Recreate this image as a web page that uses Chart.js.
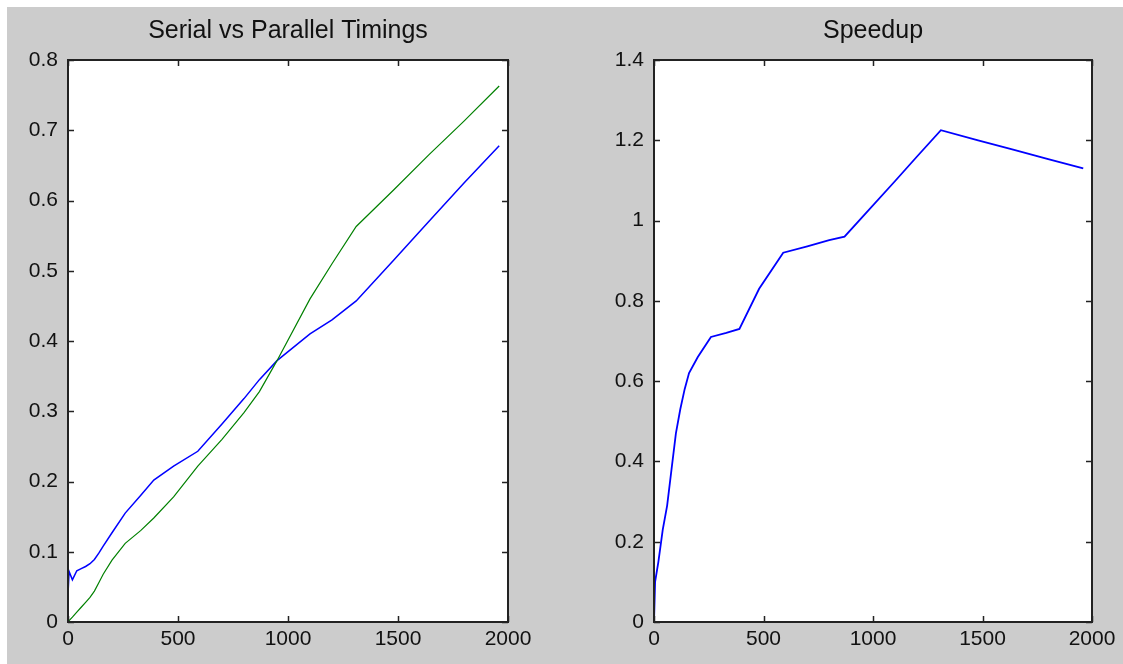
<!DOCTYPE html>
<html>
<head>
<meta charset="utf-8">
<script src="https://cdn.jsdelivr.net/npm/chart.js@4"></script>
<style>
  html, body { margin: 0; padding: 0; background: #ffffff; }
  body { width: 1123px; height: 664px; position: relative; overflow: hidden; }
  .panel { position: absolute; left: 7px; top: 7px; right: 0; bottom: 0; background: #cccccc; }
  .box { position: absolute; top: 0; height: 664px; }
</style>
</head>
<body>
<div class="panel"></div>
<div class="box" style="left:0; width:560px;"><canvas id="timingChart"></canvas></div>
<div class="box" style="left:560px; width:563px;"><canvas id="speedupChart"></canvas></div>
<script>
// data
const sizes = [0, 5, 20, 40, 60, 80, 100, 120, 140, 160, 200, 260, 330, 390, 480, 590, 700, 800, 870, 950, 1100, 1200, 1310, 1480, 1640, 1800, 1960];
const parallelTimes = [0.040, 0.072, 0.060, 0.073, 0.076, 0.079, 0.083, 0.089, 0.098, 0.108, 0.127, 0.155, 0.180, 0.202, 0.222, 0.243, 0.282, 0.318, 0.345, 0.372, 0.410, 0.430, 0.457, 0.515, 0.570, 0.625, 0.678];
const serialTimes = [0.000, 0.002, 0.007, 0.014, 0.021, 0.028, 0.035, 0.044, 0.056, 0.068, 0.088, 0.112, 0.130, 0.148, 0.178, 0.222, 0.260, 0.298, 0.328, 0.372, 0.460, 0.510, 0.563, 0.615, 0.665, 0.713, 0.763];
const speedup = [0.00, 0.10, 0.15, 0.23, 0.29, 0.38, 0.47, 0.53, 0.58, 0.62, 0.66, 0.71, 0.72, 0.73, 0.83, 0.92, 0.936, 0.951, 0.96, 1.008, 1.098, 1.159, 1.225, 1.20, 1.177, 1.153, 1.13];
const xTicks = [0, 500, 1000, 1500, 2000];

const FONT = 'Liberation Sans, Arial, sans-serif';
const INK = '#111111';

function toPoints(xs, ys) {
    return xs.map((x, i) => ({ x: x, y: ys[i] }));
}

// white plot area, black box and inward ticks like MATLAB
const matlabAxes = {
    id: 'matlabAxes',
    beforeDraw(chart) {
        const a = chart.chartArea;
        const ctx = chart.ctx;
        ctx.save();
        ctx.fillStyle = '#ffffff';
        ctx.fillRect(a.left, a.top, a.right - a.left, a.bottom - a.top);
        ctx.restore();
    },
    afterDraw(chart) {
        const a = chart.chartArea;
        const ctx = chart.ctx;
        const len = 6;
        ctx.save();
        ctx.strokeStyle = '#222222';
        ctx.lineWidth = 2;
        ctx.strokeRect(a.left, a.top, a.right - a.left, a.bottom - a.top);
        ctx.lineWidth = 1.5;
        ctx.beginPath();
        chart.scales.x.ticks.forEach(t => {
            const px = Math.round(chart.scales.x.getPixelForValue(t.value)) + 0.5;
            ctx.moveTo(px, a.bottom); ctx.lineTo(px, a.bottom - len);
            ctx.moveTo(px, a.top); ctx.lineTo(px, a.top + len);
        });
        chart.scales.y.ticks.forEach(t => {
            const py = Math.round(chart.scales.y.getPixelForValue(t.value)) + 0.5;
            ctx.moveTo(a.left, py); ctx.lineTo(a.left + len, py);
            ctx.moveTo(a.right, py); ctx.lineTo(a.right - len, py);
        });
        ctx.stroke();
        ctx.restore();
    }
};

function makeOptions(title, yMax, yStep, yWidth, rightPad) {
    return {
        responsive: false,
        animation: false,
        layout: { padding: { left: 0, right: rightPad, top: 0, bottom: 0 } },
        plugins: {
            legend: { display: false },
            tooltip: { enabled: false },
            title: {
                display: true,
                fullSize: false,   // centre over the plot box
                text: title,
                color: INK,
                font: { family: FONT, size: 25, weight: 'normal', lineHeight: 1.2 },
                padding: { top: 16, bottom: 14 }
            }
        },
        scales: {
            x: {
                type: 'linear',
                min: 0,
                max: 2000,
                afterBuildTicks: s => { s.ticks = xTicks.map(v => ({ value: v })); },
                afterFit: s => { s.height = 42; },
                grid: { display: false, drawTicks: false },
                border: { display: false },
                ticks: {
                    color: INK,
                    padding: 5,
                    maxRotation: 0,
                    font: { family: FONT, size: 21 },
                    callback: v => String(v)
                }
            },
            y: {
                type: 'linear',
                min: 0,
                max: yMax,
                afterFit: s => { s.width = yWidth; },
                grid: { display: false, drawTicks: false },
                border: { display: false },
                ticks: {
                    stepSize: yStep,
                    color: INK,
                    padding: 10,
                    font: { family: FONT, size: 21 },
                    callback: v => String(Number(v.toFixed(1)))
                }
            }
        }
    };
}

const timingCanvas = document.getElementById('timingChart');
timingCanvas.width = 560; timingCanvas.height = 664;
new Chart(timingCanvas.getContext('2d'), {
    type: 'line',
    data: {
        datasets: [
            {
                label: 'Serial',
                data: toPoints(sizes, serialTimes),
                borderColor: '#008000',
                borderWidth: 1.2,
                pointRadius: 0,
                tension: 0
            },
            {
                label: 'Parallel',
                data: toPoints(sizes, parallelTimes),
                borderColor: '#0000ff',
                borderWidth: 1.5,
                pointRadius: 0,
                tension: 0
            }
        ]
    },
    options: makeOptions('Serial vs Parallel Timings', 0.8, 0.1, 68, 52),
    plugins: [matlabAxes]
});

const speedupCanvas = document.getElementById('speedupChart');
speedupCanvas.width = 563; speedupCanvas.height = 664;
new Chart(speedupCanvas.getContext('2d'), {
    type: 'line',
    data: {
        datasets: [{
            label: 'Speedup',
            data: toPoints(sizes, speedup),
            borderColor: '#0000ff',
            borderWidth: 1.8,
            pointRadius: 0,
            tension: 0
        }]
    },
    options: makeOptions('Speedup', 1.4, 0.2, 94, 31),
    plugins: [matlabAxes]
});
</script>
</body>
</html>
